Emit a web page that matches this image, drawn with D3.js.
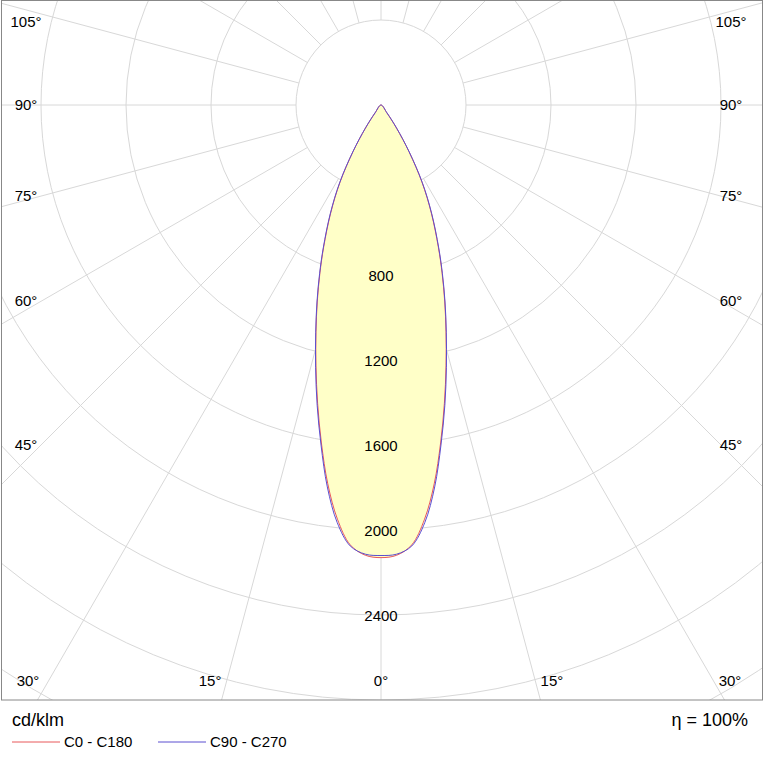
<!DOCTYPE html>
<html>
<head><meta charset="utf-8"></head>
<body style="margin:0;background:#fff">
<svg id="svg" width="765" height="763"></svg>
<script src="https://cdn.jsdelivr.net/npm/d3@7"></script>
<script>
var angles = [0, 2, 4, 6, 8, 10, 12, 14, 16, 18, 20, 22, 25, 28, 31, 34, 37, 40];
var c0 = [2130, 2120, 2075, 1960, 1800, 1615, 1435, 1265, 1110, 970, 840, 720, 560, 410, 255, 130, 45, 0];
var c90 = [2120, 2115, 2080, 1975, 1815, 1625, 1445, 1272, 1115, 975, 845, 725, 565, 415, 258, 132, 47, 0];
var rings = [400, 800, 1200, 1600, 2000, 2400, 2800, 3200, 3600];
var ringLabels = [800, 1200, 1600, 2000, 2400];
var sideAngles = [105, 90, 75, 60, 45];
var bottomAngles = [30, 15, 0];

var W = 765, cx = 381, cy = 105, plotB = 700;
var svg = d3.select("#svg");
var r = d3.scaleLinear().domain([0, 400]).range([0, 85]);

function pt(a, v) {
  var t = a * Math.PI / 180;
  return [cx + Math.sin(t) * r(v), cy + Math.cos(t) * r(v)];
}

svg.append("clipPath").attr("id", "cp").append("rect")
  .attr("x", 1).attr("y", 0).attr("width", W - 3).attr("height", plotB);
var g = svg.append("g").attr("clip-path", "url(#cp)");

g.selectAll("circle.ring").data(rings).join("circle")
  .attr("cx", cx).attr("cy", cy).attr("r", d => r(d))
  .attr("fill", "none").attr("stroke", "#d8d8d8");
var rays = d3.range(0, 360, 15);
g.selectAll("line.ray").data(rays).join("line")
  .attr("x1", d => pt(d, 400)[0]).attr("y1", d => pt(d, 400)[1])
  .attr("x2", d => pt(d, 6000)[0]).attr("y2", d => pt(d, 6000)[1])
  .attr("stroke", "#d8d8d8");

function curve(vals) {
  var pts = angles.map((a, i) => pt(a, vals[i]));
  var left = angles.map((a, i) => pt(-a, vals[i])).reverse();
  return d3.line().curve(d3.curveCatmullRomClosed)(left.slice(0, -1).concat(pts.slice(0, -1)));
}
g.append("path").attr("d", curve(c0)).attr("fill", "#ffffc8").attr("stroke", "none");
g.append("path").attr("d", curve(c0)).attr("fill", "none").attr("stroke", "#e8585a").attr("stroke-width", 1);
g.append("path").attr("d", curve(c90)).attr("fill", "none").attr("stroke", "#5a4fd0").attr("stroke-width", 1);

svg.append("rect").attr("x", 1.5).attr("y", 0.5).attr("width", W - 4).attr("height", plotB - 0.5)
  .attr("fill", "none").attr("stroke", "#888");

var font = "Arial, 'Liberation Sans', sans-serif";
svg.selectAll("text.rl").data(ringLabels).join("text")
  .attr("x", cx).attr("y", d => cy + r(d) + 6).attr("text-anchor", "middle")
  .attr("font-family", font).attr("font-size", 15).text(d => d);

sideAngles.forEach(a => {
  var t = a * Math.PI / 180;
  var y = cy + 340 / Math.tan(t) + 5;
  if (a == 105) y = 27;
  if (a == 90) y = 110;
  [26, W - 34].forEach(x => svg.append("text").attr("x", x).attr("y", y)
    .attr("text-anchor", "middle").attr("font-family", font).attr("font-size", 15).text(a + "°"));
});
bottomAngles.forEach(a => {
  var dx = 638 * Math.tan(a * Math.PI / 180);
  var xs = a == 0 ? [cx] : [Math.max(28, cx - dx), Math.min(W - 35, cx + dx)];
  xs.forEach(x => svg.append("text").attr("x", x).attr("y", 686)
    .attr("text-anchor", "middle").attr("font-family", font).attr("font-size", 15).text(a + "°"));
});

svg.append("text").attr("x", 12).attr("y", 726).attr("font-family", font).attr("font-size", 18).text("cd/klm");
svg.append("text").attr("x", 748).attr("y", 726).attr("text-anchor", "end").attr("font-family", font).attr("font-size", 18).text("η = 100%");
var legend = [["C0 - C180", "#e8585a", 12], ["C90 - C270", "#5a4fd0", 158]];
legend.forEach(l => {
  svg.append("line").attr("x1", l[2]).attr("x2", l[2] + 48).attr("y1", 742).attr("y2", 742).attr("stroke", l[1]);
  svg.append("text").attr("x", l[2] + 52).attr("y", 747).attr("font-family", font).attr("font-size", 15).text(l[0]);
});
</script>
</body>
</html>
